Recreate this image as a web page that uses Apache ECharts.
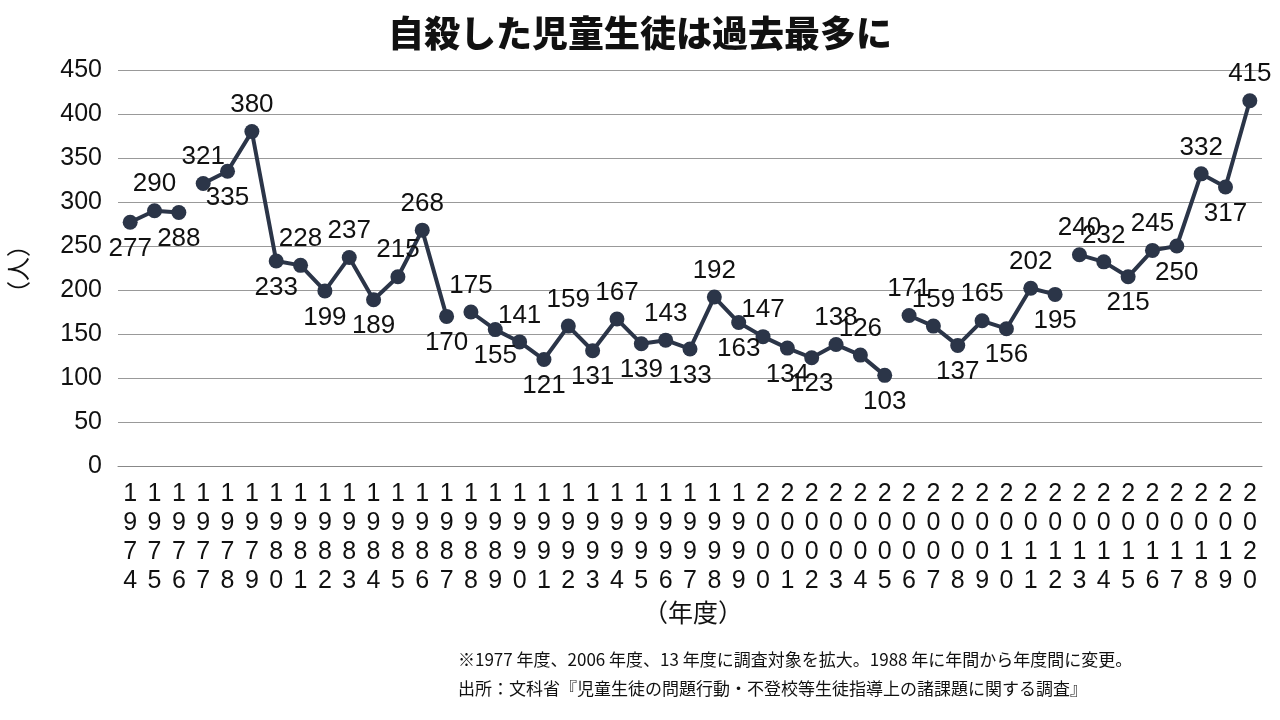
<!DOCTYPE html><html><head><meta charset="utf-8"><script src="https://cdn.jsdelivr.net/npm/echarts@6/dist/echarts.min.js"></script>
<style>body{margin:0}#c{width:1280px;height:720px}</style></head><body><div id="c"></div><script>
const years=[];for(let y=1974;y<=2020;y++)years.push(String(y));
const values=[277,290,288,321,335,380,233,228,199,237,189,215,268,170,175,155,141,121,159,131,167,139,143,133,192,163,147,134,123,138,126,103,171,159,137,165,156,202,195,240,232,215,245,250,332,317,415];
const segmentStarts=['1974','1977','1988','2006','2013'];
const labelSide='BTBTBTBTBTBTTBTBTBTBTBTBTBTBBTTBTTBTBTBTTBTBTBT';
const F='"Liberation Sans Narrow","Liberation Sans",sans-serif';
const starts=segmentStarts.map(s=>years.indexOf(s));
const series=starts.map((s,k)=>{const e=k+1<starts.length?starts[k+1]:years.length;
 return {type:'line',symbol:'circle',symbolSize:15,itemStyle:{color:'#2b3548'},lineStyle:{color:'#2b3548',width:4},
 data:values.map((v,i)=>i>=s&&i<e?{value:v,label:{position:labelSide[i]==='T'?'top':'bottom'}}:null),
 label:{show:true,fontSize:26,fontFamily:F,color:'#111',distance:6}}});
const ch=echarts.init(document.getElementById('c'));
ch.setOption({animation:false,
title:{text:'自殺した児童生徒は過去最多に',left:'center',top:10,textStyle:{fontSize:36,fontWeight:900,color:'#111',fontFamily:'"Noto Sans CJK JP"'}},
grid:{left:118,right:18,top:70,bottom:254},
xAxis:{type:'category',data:years,boundaryGap:true,axisTick:{show:false},axisLine:{lineStyle:{color:'#888'}},
 axisLabel:{interval:0,fontSize:25,lineHeight:29,color:'#111',fontFamily:F,margin:14,formatter:v=>v.split('').join('\n')}},
yAxis:{type:'value',min:0,max:450,interval:50,axisLabel:{fontSize:25,color:'#111',fontFamily:F,margin:16},splitLine:{lineStyle:{color:'#999',width:1}}},
series:series,
graphic:[
{type:'text',x:6,y:305,rotation:Math.PI/2,style:{text:'（人）',fontSize:24,fill:'#111',fontFamily:'"Noto Sans CJK JP"'}},
{type:'text',left:643,top:600,style:{text:'（年度）',fontSize:25,fill:'#111',fontFamily:'"Noto Sans CJK JP"'}},
{type:'text',left:458,top:651,style:{text:'※1977 年度、2006 年度、13 年度に調査対象を拡大。1988 年に年間から年度間に変更。',fontSize:17,fill:'#111',fontFamily:'"Noto Sans CJK JP"'}},
{type:'text',left:458,top:680,style:{text:'出所：文科省『児童生徒の問題行動・不登校等生徒指導上の諸課題に関する調査』',fontSize:17,fill:'#111',fontFamily:'"Noto Sans CJK JP"'}}
]});
</script></body></html>
